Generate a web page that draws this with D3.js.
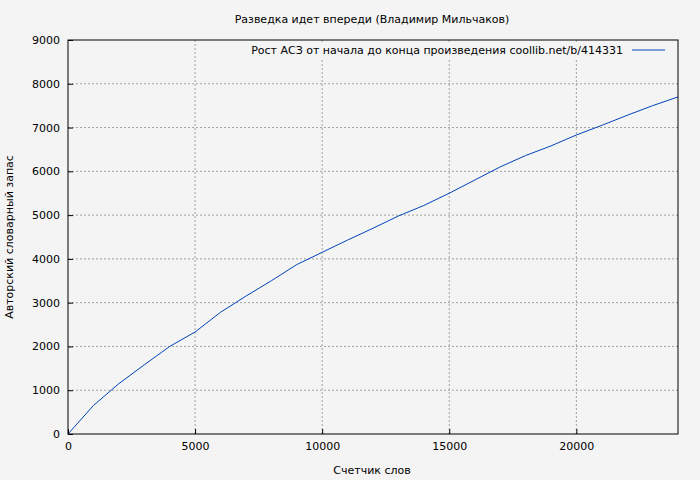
<!DOCTYPE html>
<html><head><meta charset="utf-8">
<script src="https://cdn.jsdelivr.net/npm/d3@7"></script>
<style>body{margin:0;background:#f4f4f4}svg{font-family:"DejaVu Sans",sans-serif;font-size:11px}</style>
</head><body><svg id="chart" width="700" height="480"></svg>
<script>
// word count vs vocabulary size
var words = [0,1000,2000,3000,4000,5000,6000,7000,8000,9000,10000,11000,12000,13000,14000,15000,16000,17000,18000,19000,20000,21000,22000,23000,24000];
var vocab = [0,650,1150,1580,2000,2330,2780,3150,3500,3870,4150,4430,4700,4980,5220,5500,5800,6100,6360,6580,6830,7050,7280,7500,7700];
var xTicks = [0,5000,10000,15000,20000];
var yTicks = [0,1000,2000,3000,4000,5000,6000,7000,8000,9000];

var margin = { top: 40, right: 22, bottom: 46, left: 68 };
var svg = d3.select("#chart");
var w = 700 - margin.left - margin.right, h = 480 - margin.top - margin.bottom;
svg.append("rect").attr("width", 700).attr("height", 480).attr("fill", "#f4f4f4");
var g = svg.append("g").attr("transform", "translate(" + margin.left + "," + margin.top + ")");

var x = d3.scaleLinear().domain([0, 24000]).range([0, w]);
var y = d3.scaleLinear().domain([0, 9000]).range([h, 0]);

// grid
g.selectAll(".gx").data(xTicks.slice(1)).enter().append("line")
    .attr("x1", d => x(d)).attr("x2", d => x(d)).attr("y1", 0).attr("y2", h)
    .attr("stroke", "#a0a0a0").attr("stroke-dasharray", "2,2");
g.selectAll(".gy").data(yTicks.slice(1, -1)).enter().append("line")
    .attr("x1", 0).attr("x2", w).attr("y1", d => y(d)).attr("y2", d => y(d))
    .attr("stroke", "#a0a0a0").attr("stroke-dasharray", "2,2");

// legend box covers grid
g.append("rect").attr("x", 190).attr("y", 2).attr("width", w - 192).attr("height", 18).attr("fill", "#f4f4f4");
g.append("text").attr("x", 555).attr("y", 14).attr("text-anchor", "end").attr("fill", "#000")
    .text("Рост АСЗ от начала до конца произведения coollib.net/b/414331");
g.append("line").attr("x1", 564).attr("x2", 597).attr("y1", 10).attr("y2", 10).attr("stroke", "#0044bb");

g.append("path").datum(words)
    .attr("d", d3.line().x(d => x(d)).y((d, i) => y(vocab[i])))
    .attr("fill", "none").attr("stroke", "#0044bb").attr("stroke-width", 1);

var xa = g.append("g").attr("transform", "translate(0," + h + ")")
    .call(d3.axisBottom(x).tickValues(xTicks).tickSize(-5).tickPadding(8).tickFormat(d3.format("d")));
var ya = g.append("g").call(d3.axisLeft(y).tickValues(yTicks).tickSize(-5).tickPadding(8).tickFormat(d3.format("d")));
[xa, ya].forEach(a => { a.select(".domain").remove(); a.selectAll("text").attr("font-size", 11).attr("font-family", "DejaVu Sans").attr("fill", "#000"); });
g.append("rect").attr("width", w).attr("height", h).attr("fill", "none").attr("stroke", "#000");

svg.append("text").attr("x", 372).attr("y", 23).attr("text-anchor", "middle").text("Разведка идет впереди (Владимир Мильчаков)");
svg.append("text").attr("x", 372).attr("y", 474).attr("text-anchor", "middle").text("Счетчик слов");
svg.append("text").attr("transform", "translate(13," + (margin.top + h / 2) + ") rotate(-90)").attr("text-anchor", "middle").text("Авторский словарный запас");
</script></body></html>
